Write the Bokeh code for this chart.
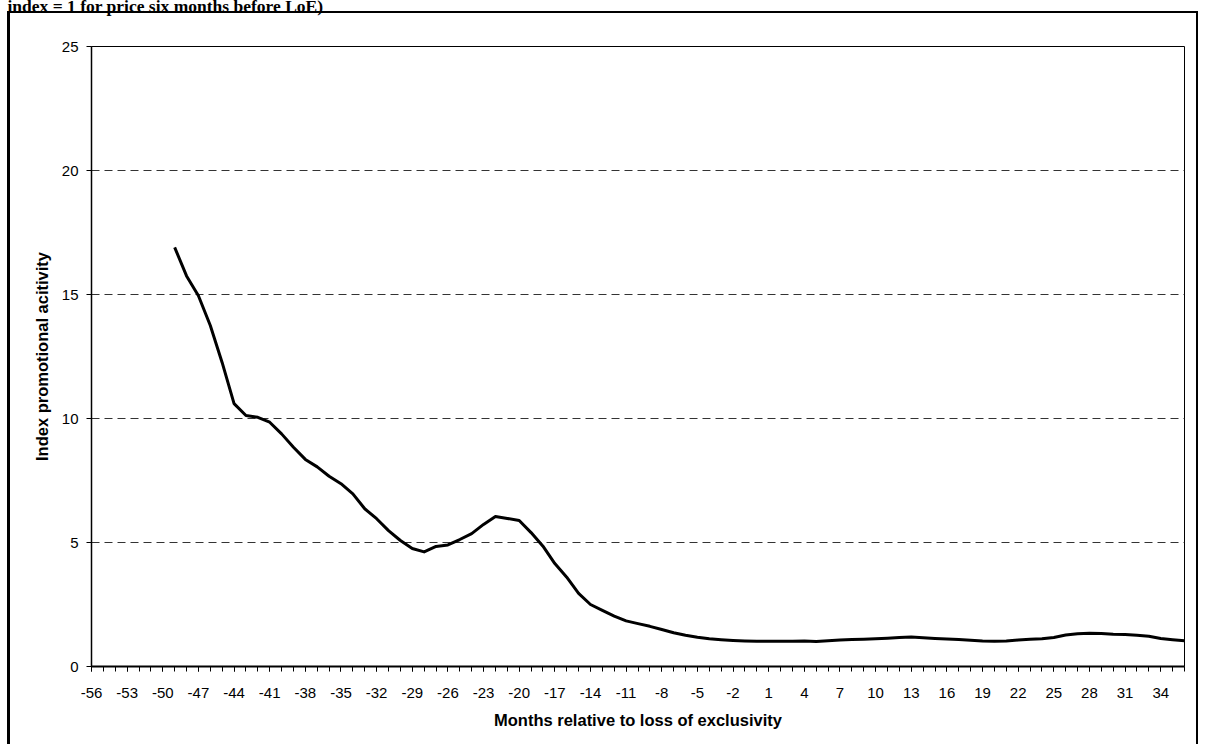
from bokeh.plotting import figure
from bokeh.models import FixedTicker, Range1d, Title
from bokeh.embed import file_html
from bokeh.resources import INLINE

# ---- data -------------------------------------------------------------
months = list(range(-49, 37))
index_values = [
    16.90, 15.75, 14.95, 13.75, 12.25, 10.60, 10.12, 10.05, 9.85, 9.38,   # -49..-40
    8.84, 8.35, 8.05, 7.67, 7.37, 6.96, 6.36, 5.96, 5.48, 5.08,          # -39..-30
    4.76, 4.62, 4.84, 4.90, 5.12, 5.36, 5.73, 6.05, 5.97, 5.89,          # -29..-20
    5.40, 4.85, 4.15, 3.60, 2.95, 2.50, 2.26, 2.03, 1.84, 1.73,          # -19..-10
    1.62, 1.49, 1.36, 1.26, 1.18, 1.12, 1.08, 1.05, 1.03, 1.02,          # -9..0
    1.02, 1.02, 1.02, 1.03, 1.01, 1.04, 1.07, 1.09, 1.10, 1.12,          # 1..10
    1.14, 1.17, 1.19, 1.16, 1.13, 1.11, 1.09, 1.06, 1.03, 1.02,          # 11..20
    1.03, 1.07, 1.10, 1.12, 1.17, 1.27, 1.32, 1.34, 1.33, 1.30,          # 21..30
    1.29, 1.26, 1.22, 1.13, 1.08, 1.04,                                  # 31..36
]
x_categories = list(range(-56, 37))
x_tick_labels = list(range(-56, 35, 3))
y_ticks = [0, 5, 10, 15, 20, 25]

title_text = "index = 1 for price six months before LoE)"
x_title = "Months relative to loss of exclusivity"
y_title = "Index promotional acitivity"

# ---- figure -----------------------------------------------------------
W, H = 1200, 744
FRAME_L, FRAME_R, FRAME_T, FRAME_B = 91, 1184, 46, 666
border_css = (
    "linear-gradient(#000,#000) 7px 11px / 3px 2000px no-repeat, "
    "linear-gradient(#000,#000) 7px 11px / 1191px 2px no-repeat, "
    "linear-gradient(#000,#000) 1196px 11px / 2px 2000px no-repeat, "
    "#ffffff"
)

p = figure(width=W, height=H, output_backend="svg", toolbar_location=None,
           x_range=Range1d(x_categories[0], x_categories[-1]),
           y_range=Range1d(y_ticks[0], y_ticks[-1]),
           min_border_left=FRAME_L, min_border_right=W - FRAME_R,
           min_border_top=FRAME_T, min_border_bottom=H - FRAME_B,
           background_fill_color="white", border_fill_color=None,
           outline_line_color="black", outline_line_width=1,
           styles={"background": border_css})

# blank spacer panel next to the frame, then the (cut-off) heading above it
p.add_layout(Title(text=" ", text_font_size="10px", text_color="white", standoff=22), "above")
p.add_layout(Title(text=title_text, align="left", vertical_align="top",
                   offset=7 - FRAME_L, standoff=-13,
                   text_font="Liberation Serif", text_font_style="bold",
                   text_font_size="17.5px", text_color="black"), "above")

p.line(months, index_values, line_color="black", line_width=3, line_join="round")

FONT = "Liberation Sans"

xa = p.xaxis[0]
xa.ticker = FixedTicker(ticks=x_tick_labels, minor_ticks=x_categories)
xa.major_label_overrides = {t: str(t) for t in x_tick_labels}
xa.major_tick_in = 0
xa.major_tick_out = 5
xa.minor_tick_in = 0
xa.minor_tick_out = 5
xa.major_tick_line_color = "black"
xa.minor_tick_line_color = "black"
xa.axis_line_color = "black"
xa.axis_line_width = 2
xa.major_label_text_font = FONT
xa.major_label_text_font_size = "15px"
xa.major_label_text_color = "black"
xa.major_label_standoff = 16
xa.axis_label = x_title
xa.axis_label_text_font = FONT
xa.axis_label_text_font_style = "bold"
xa.axis_label_text_font_size = "16.5px"
xa.axis_label_text_color = "black"
xa.axis_label_standoff = 10

ya = p.yaxis[0]
ya.ticker = FixedTicker(ticks=y_ticks, minor_ticks=[])
ya.major_tick_in = 0
ya.major_tick_out = 5
ya.minor_tick_line_color = None
ya.major_tick_line_color = "black"
ya.axis_line_color = "black"
ya.axis_line_width = 1.5
ya.major_label_text_font = FONT
ya.major_label_text_font_size = "15px"
ya.major_label_text_color = "black"
ya.major_label_standoff = 8
ya.axis_label = y_title
ya.axis_label_text_font = FONT
ya.axis_label_text_font_style = "bold"
ya.axis_label_text_font_size = "16.5px"
ya.axis_label_text_color = "black"
ya.axis_label_standoff = 8

p.xgrid.visible = False
p.ygrid.grid_line_color = "#333333"
p.ygrid.grid_line_dash = "8 5"
p.ygrid.grid_line_width = 1

open("out.html", "w").write(file_html(p, INLINE))
